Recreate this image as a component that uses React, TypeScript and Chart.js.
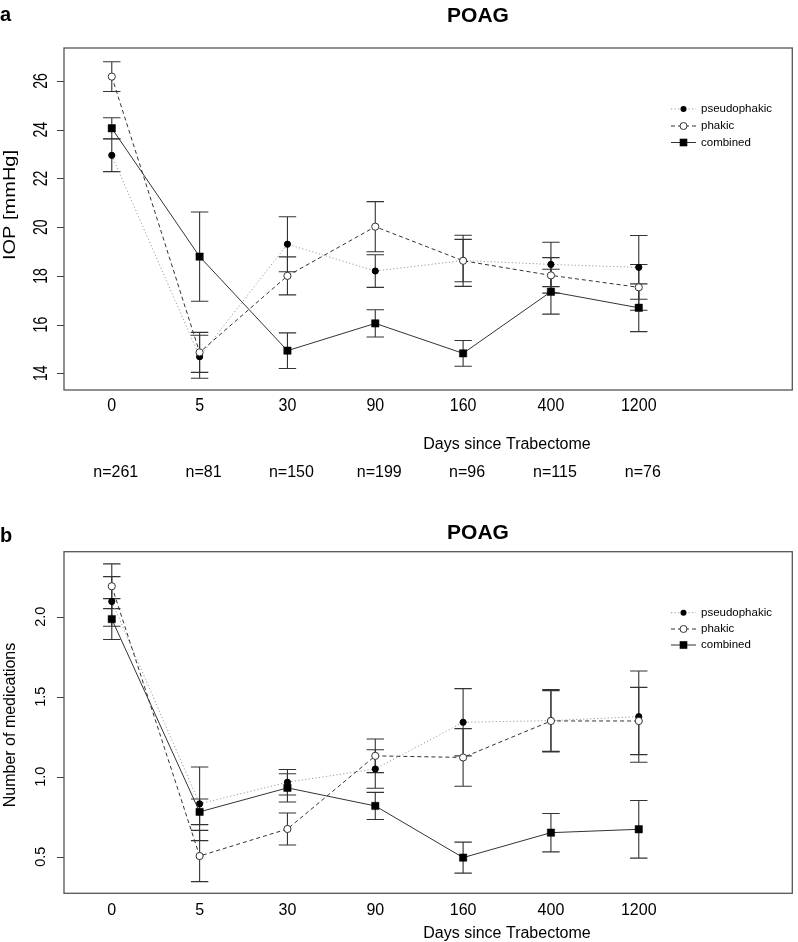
import React, { useEffect, useRef } from "react";
import { Chart, registerables } from "chart.js";

Chart.register(...registerables);

// ---------- data ----------
const days = ["0", "5", "30", "90", "160", "400", "1200"];
const sampleSizes = ["n=261", "n=81", "n=150", "n=199", "n=96", "n=115", "n=76"];
const seriesNames = ["pseudophakic", "phakic", "combined"];

const iopTicks = [14, 16, 18, 20, 22, 24, 26];
const iopPseudo = [22.95, 14.68, 19.3, 18.2, 18.63, 18.47, 18.35];
const iopPseudoErr = [0.67, 0.88, 1.13, 0.67, 0.87, 0.91, 1.31];
const iopPhakic = [26.18, 14.86, 18.0, 20.02, 18.62, 18.02, 17.53];
const iopPhakicErr = [0.61, 0.82, 0.78, 1.03, 1.05, 0.73, 0.94];
const iopCombined = [24.06, 18.79, 14.93, 16.05, 14.82, 17.35, 16.69];
const iopCombinedErr = [0.43, 1.83, 0.73, 0.56, 0.53, 0.92, 0.98];

const medTicks = [0.5, 1.0, 1.5, 2.0];
const medPseudo = [2.095, 0.83, 0.965, 1.048, 1.34, 1.35, 1.375];
const medPseudoErr = [0.155, 0.23, 0.08, 0.12, 0.21, 0.195, 0.285];
const medPhakic = [2.19, 0.504, 0.673, 1.13, 1.12, 1.348, 1.348];
const medPhakicErr = [0.14, 0.16, 0.1, 0.105, 0.18, 0.19, 0.21];
const medCombined = [1.985, 0.78, 0.93, 0.817, 0.494, 0.65, 0.671];
const medCombinedErr = [0.128, 0.08, 0.088, 0.085, 0.097, 0.12, 0.18];

// ---------- styles ----------
const FONT = '"Liberation Sans", Arial, Helvetica, sans-serif';
const seriesStyles = [
  { line: "#9a9a9a", dash: [1.2, 2.3], marker: "dot" },
  { line: "#333333", dash: [4, 3], marker: "open" },
  { line: "#333333", dash: [], marker: "square" },
];

type TextOpts = {
  size: number;
  bold?: boolean;
  align?: CanvasTextAlign;
  baseline?: CanvasTextBaseline;
  rot?: number;
  sx?: number;
  sy?: number;
  color?: string;
};

function drawText(ctx: CanvasRenderingContext2D, s: string, x: number, y: number, o: TextOpts) {
  ctx.save();
  ctx.translate(x, y);
  if (o.rot) ctx.rotate(o.rot);
  ctx.scale(o.sx || 1, o.sy || 1);
  ctx.font = `${o.bold ? "bold " : ""}${o.size}px ${FONT}`;
  ctx.textAlign = o.align || "center";
  ctx.textBaseline = o.baseline || "alphabetic";
  ctx.fillStyle = o.color || "#000";
  ctx.fillText(s, 0, 0);
  ctx.restore();
}

function drawMarker(ctx: CanvasRenderingContext2D, kind: string, x: number, y: number) {
  ctx.save();
  ctx.setLineDash([]);
  ctx.lineWidth = 1;
  if (kind === "dot") {
    ctx.fillStyle = "#000";
    ctx.beginPath();
    ctx.arc(x, y, 3, 0, Math.PI * 2);
    ctx.fill();
  } else if (kind === "open") {
    ctx.fillStyle = "#fff";
    ctx.strokeStyle = "#333";
    ctx.beginPath();
    ctx.arc(x, y, 3.5, 0, Math.PI * 2);
    ctx.fill();
    ctx.stroke();
  } else {
    ctx.fillStyle = "#000";
    ctx.fillRect(x - 3.8, y - 3.8, 7.6, 7.6);
  }
  ctx.restore();
}

type Panel = {
  values: number[][];
  errs: number[][];
  yMin: number;
  yMax: number;
  ticks: number[];
  tickFmt: (v: number) => string;
  yLabel: string;
  letter: string;
  height: number;
  padding: { left: number; top: number; right: number; bottom: number };
  titleY: number;
  letterY: number;
  tickLabelY: number;
  tickLabelSy: number;
  yTickSize: number;
  yTickSy: number;
  yTickX: number;
  xLabelY: number;
  yLabelX: number;
  yLabelY: number;
  yLabelSx: number;
  nLabelY: number | null;
  legendY: number[];
};

const panelA: Panel = {
  values: [iopPseudo, iopPhakic, iopCombined],
  errs: [iopPseudoErr, iopPhakicErr, iopCombinedErr],
  yMin: 13.315,
  yMax: 27.355,
  ticks: iopTicks,
  tickFmt: (v) => String(v),
  yLabel: "IOP [mmHg]",
  letter: "a",
  height: 490,
  padding: { left: 64, top: 48, right: 2, bottom: 100 },
  titleY: 21.7,
  letterY: 21,
  tickLabelY: 410.7,
  tickLabelSy: 1.2,
  yTickSize: 14,
  yTickSy: 1.4,
  yTickX: 47,
  xLabelY: 449,
  yLabelX: 14.5,
  yLabelY: 205,
  yLabelSx: 1.25,
  nLabelY: 477.3,
  legendY: [109, 126, 142.5],
};

const panelB: Panel = {
  values: [medPseudo, medPhakic, medCombined],
  errs: [medPseudoErr, medPhakicErr, medCombinedErr],
  yMin: 0.271,
  yMax: 2.406,
  ticks: medTicks,
  tickFmt: (v) => v.toFixed(1),
  yLabel: "Number of medications",
  letter: "b",
  height: 452,
  padding: { left: 64, top: 61.7, right: 2, bottom: 48.7 },
  titleY: 49.3,
  letterY: 51.7,
  tickLabelY: 424.7,
  tickLabelSy: 1,
  yTickSize: 14.5,
  yTickSy: 1,
  yTickX: 45,
  xLabelY: 448,
  yLabelX: 14.5,
  yLabelY: 235,
  yLabelSx: 1,
  nLabelY: null,
  legendY: [122.7, 139, 155],
};

function makePlugin(p: Panel) {
  return {
    id: "panelDecor",
    beforeDatasetsDraw(chart: any) {
      const { ctx, chartArea: a, scales } = chart;
      const x = scales.x;
      const y = scales.y;
      ctx.save();
      // box
      ctx.strokeStyle = "#555";
      ctx.lineWidth = 1.3;
      ctx.strokeRect(a.left, a.top, a.right - a.left, a.bottom - a.top);
      // y tick marks
      ctx.strokeStyle = "#444";
      ctx.lineWidth = 1;
      p.ticks.forEach((t) => {
        const py = Math.round(y.getPixelForValue(t)) + 0.5;
        ctx.beginPath();
        ctx.moveTo(a.left - 7, py);
        ctx.lineTo(a.left, py);
        ctx.stroke();
      });
      // error bars
      ctx.strokeStyle = "#333";
      ctx.lineWidth = 1.1;
      p.values.forEach((vals, s) => {
        vals.forEach((v, i) => {
          const e = p.errs[s][i];
          const px = x.getPixelForValue(i + 1);
          const y1 = y.getPixelForValue(v + e);
          const y2 = y.getPixelForValue(v - e);
          ctx.beginPath();
          ctx.moveTo(px, y1);
          ctx.lineTo(px, y2);
          ctx.moveTo(px - 8.7, y1);
          ctx.lineTo(px + 8.7, y1);
          ctx.moveTo(px - 8.7, y2);
          ctx.lineTo(px + 8.7, y2);
          ctx.stroke();
        });
      });
      ctx.restore();
    },
    afterDraw(chart: any) {
      const { ctx, scales } = chart;
      const x = scales.x;
      const y = scales.y;
      // panel letter and title
      drawText(ctx, p.letter, 0, p.letterY, { size: 20, bold: true, align: "left" });
      drawText(ctx, "POAG", 478, p.titleY, { size: 21, bold: true });
      // x tick labels
      days.forEach((d, i) => {
        drawText(ctx, d, x.getPixelForValue(i + 1), p.tickLabelY, { size: 16, sy: p.tickLabelSy });
      });
      // x axis title
      drawText(ctx, "Days since Trabectome", 507, p.xLabelY, { size: 16 });
      // sample sizes
      if (p.nLabelY !== null) {
        sampleSizes.forEach((n, i) => {
          drawText(ctx, n, x.getPixelForValue(i + 1) + 4, p.nLabelY as number, { size: 16 });
        });
      }
      // y tick labels
      p.ticks.forEach((t) => {
        drawText(ctx, p.tickFmt(t), p.yTickX, y.getPixelForValue(t), {
          size: p.yTickSize,
          rot: -Math.PI / 2,
          sy: p.yTickSy,
        });
      });
      // y axis title
      drawText(ctx, p.yLabel, p.yLabelX, p.yLabelY, { size: 16, rot: -Math.PI / 2, sx: p.yLabelSx });
      // legend
      seriesNames.forEach((name, s) => {
        const ly = p.legendY[s];
        const st = seriesStyles[s];
        ctx.save();
        ctx.strokeStyle = st.line;
        ctx.lineWidth = 1;
        ctx.setLineDash(st.dash);
        ctx.beginPath();
        ctx.moveTo(671, ly);
        ctx.lineTo(696, ly);
        ctx.stroke();
        ctx.restore();
        drawMarker(ctx, st.marker, 683.5, ly);
        drawText(ctx, name, 701, ly, { size: 11.5, align: "left", baseline: "middle" });
      });
    },
  };
}

function PanelChart({ p }: { p: Panel }) {
  const ref = useRef<HTMLCanvasElement | null>(null);
  useEffect(() => {
    if (!ref.current) return;
    const datasets = seriesNames.map((name, s) => {
      const st = seriesStyles[s];
      const isSquare = st.marker === "square";
      const isOpen = st.marker === "open";
      return {
        label: name,
        data: p.values[s].map((v, i) => ({ x: i + 1, y: v })),
        borderColor: st.line,
        borderWidth: 1,
        borderDash: st.dash,
        tension: 0,
        fill: false,
        pointStyle: isSquare ? "rect" : "circle",
        pointRadius: isSquare ? 5.2 : isOpen ? 3.6 : 3.1,
        pointBorderWidth: isSquare ? 0.5 : 1,
        pointBackgroundColor: isOpen ? "#ffffff" : "#000000",
        pointBorderColor: isOpen ? "#333333" : "#000000",
        order: 3 - s,
      };
    });
    const chart = new Chart(ref.current, {
      type: "line",
      data: { datasets } as any,
      options: {
        animation: false,
        responsive: false,
        events: [],
        layout: { padding: p.padding },
        scales: {
          x: { type: "linear", min: 0.456, max: 8.748, display: false },
          y: { type: "linear", min: p.yMin, max: p.yMax, display: false },
        },
        plugins: {
          legend: { display: false },
          tooltip: { enabled: false },
          title: { display: false },
        },
      } as any,
      plugins: [makePlugin(p)],
    });
    return () => chart.destroy();
  }, [p]);
  return <canvas ref={ref} width={798} height={p.height} style={{ display: "block" }} />;
}

export default function App() {
  return (
    <div style={{ position: "absolute", left: 0, top: 0, width: 798, height: 942, background: "#fff" }}>
      <PanelChart p={panelA} />
      <PanelChart p={panelB} />
    </div>
  );
}
